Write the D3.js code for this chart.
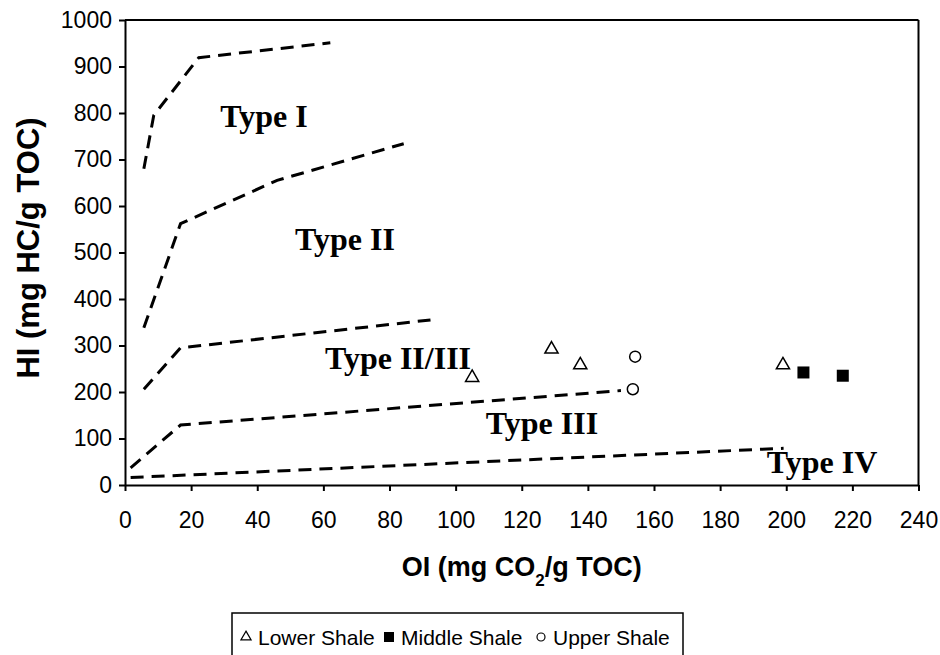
<!DOCTYPE html>
<html><head><meta charset="utf-8">
<script src="https://cdn.jsdelivr.net/npm/d3@7"></script>
<style>body{margin:0;background:#fff}svg{display:block}</style>
</head><body>
<svg id="c" width="940" height="655"></svg>
<script>
// ---- data ----
const xTicks = [0,20,40,60,80,100,120,140,160,180,200,220,240];
const yTicks = [0,100,200,300,400,500,600,700,800,900,1000];
const lowerShale = [[105,231],[129,292],[137.7,258],[199,258]];
const middleShale = [[205.2,242],[217.1,235]];
const upperShale = [[154.3,276],[153.6,206]];
const lineTypeI = [[5.7,680],[8.7,795],[22.3,919],[62.1,951]];
const lineTypeII = [[5.7,338],[16.8,562],[46.0,655],[84.3,734]];
const lineTypeIIIII = [[5.7,206],[16.8,295],[92.4,355]];
const lineTypeIII = [[1.7,37],[16.8,129],[150,203]];
const lineTypeIV = [[1.7,16],[199.2,79]];
const typeLabels = [["Type I",264,127],["Type II",345,250],["Type II/III",398,369],["Type III",542,434],["Type IV",822,473]];
const legendItems = ["Lower Shale","Middle Shale","Upper Shale"];

const svg = d3.select("#c");
const L=125, R=918.5, T=20, B=485;
const x = d3.scaleLinear().domain([0,240]).range([L,R]);
const y = d3.scaleLinear().domain([0,1000]).range([B,T]);

// frame
svg.append("line").attr("x1",L).attr("x2",R).attr("y1",T).attr("y2",T).attr("stroke","#000").attr("stroke-width",2);
svg.append("line").attr("x1",R).attr("x2",R).attr("y1",T).attr("y2",B).attr("stroke","#000").attr("stroke-width",2);

const xa = svg.append("g").attr("transform",`translate(0,${B})`)
  .call(d3.axisBottom(x).tickValues(xTicks).tickFormat(d3.format("d")).tickSize(6).tickPadding(21).tickSizeOuter(0));
const ya = svg.append("g").attr("transform",`translate(${L},0)`)
  .call(d3.axisLeft(y).tickValues(yTicks).tickFormat(d3.format("d")).tickSize(6).tickPadding(7).tickSizeOuter(0));
[xa,ya].forEach(a=>{
  a.select(".domain").attr("stroke","#000").attr("stroke-width",2);
  a.selectAll(".tick line").attr("stroke","#000").attr("stroke-width",2);
  a.selectAll("text").attr("font-family","Liberation Sans, Arial, sans-serif").attr("font-size",23).attr("fill","#000");
});

// dashed lines
const line = d3.line().x(d=>x(d[0])).y(d=>y(d[1]));
[lineTypeI,lineTypeII,lineTypeIIIII,lineTypeIII,lineTypeIV].forEach(ln=>{
  svg.append("path").attr("d",line(ln)).attr("fill","none").attr("stroke","#000")
    .attr("stroke-width",3).attr("stroke-dasharray","13,8");
});

// labels
typeLabels.forEach(t=>{
  svg.append("text").attr("x",t[1]).attr("y",t[2]).attr("text-anchor","middle")
    .attr("font-family","Liberation Serif, Times New Roman, serif").attr("font-weight","bold")
    .attr("font-size",32).text(t[0]);
});

// markers
const tri = d3.symbol().type(d3.symbolTriangle).size(75);
svg.selectAll(".lo").data(lowerShale).join("path").attr("d",tri)
  .attr("transform",d=>`translate(${x(d[0])},${y(d[1])})`).attr("fill","#fff").attr("stroke","#000").attr("stroke-width",1.5);
svg.selectAll(".mi").data(middleShale).join("rect")
  .attr("x",d=>x(d[0])-6).attr("y",d=>y(d[1])-6).attr("width",12).attr("height",12).attr("fill","#000");
svg.selectAll(".up").data(upperShale).join("circle")
  .attr("cx",d=>x(d[0])).attr("cy",d=>y(d[1])).attr("r",5.5).attr("fill","none").attr("stroke","#000").attr("stroke-width",1.5);

// axis titles
svg.append("text").attr("x",(L+R)/2).attr("y",576).attr("text-anchor","middle")
  .attr("font-family","Liberation Sans, Arial, sans-serif").attr("font-weight","bold").attr("font-size",27)
  .html('OI (mg CO<tspan baseline-shift="sub" font-size="17">2</tspan>/g TOC)');
svg.append("text").attr("transform",`translate(39,248) rotate(-90)`).attr("text-anchor","middle")
  .attr("font-family","Liberation Sans, Arial, sans-serif").attr("font-weight","bold").attr("font-size",31)
  .text("HI (mg HC/g TOC)");

// legend
const lg = svg.append("g");
lg.append("rect").attr("x",232).attr("y",613).attr("width",451).attr("height",60).attr("fill","#fff").attr("stroke","#000").attr("stroke-width",1.5);
const lx=[246,389,541];
legendItems.forEach((name,i)=>{
  const cx=lx[i], cy=637;
  if(i===0) lg.append("path").attr("d",d3.symbol().type(d3.symbolTriangle).size(45)).attr("transform",`translate(${cx},${cy})`).attr("fill","#fff").attr("stroke","#000").attr("stroke-width",1.2);
  if(i===1) lg.append("rect").attr("x",cx-5).attr("y",cy-5).attr("width",10).attr("height",10).attr("fill","#000");
  if(i===2) lg.append("circle").attr("cx",cx).attr("cy",cy).attr("r",4).attr("fill","none").attr("stroke","#000").attr("stroke-width",1.2);
  lg.append("text").attr("x",cx+12).attr("y",cy+8).attr("font-family","Liberation Sans, Arial, sans-serif").attr("font-size",21).text(name);
});
</script>
</body></html>
